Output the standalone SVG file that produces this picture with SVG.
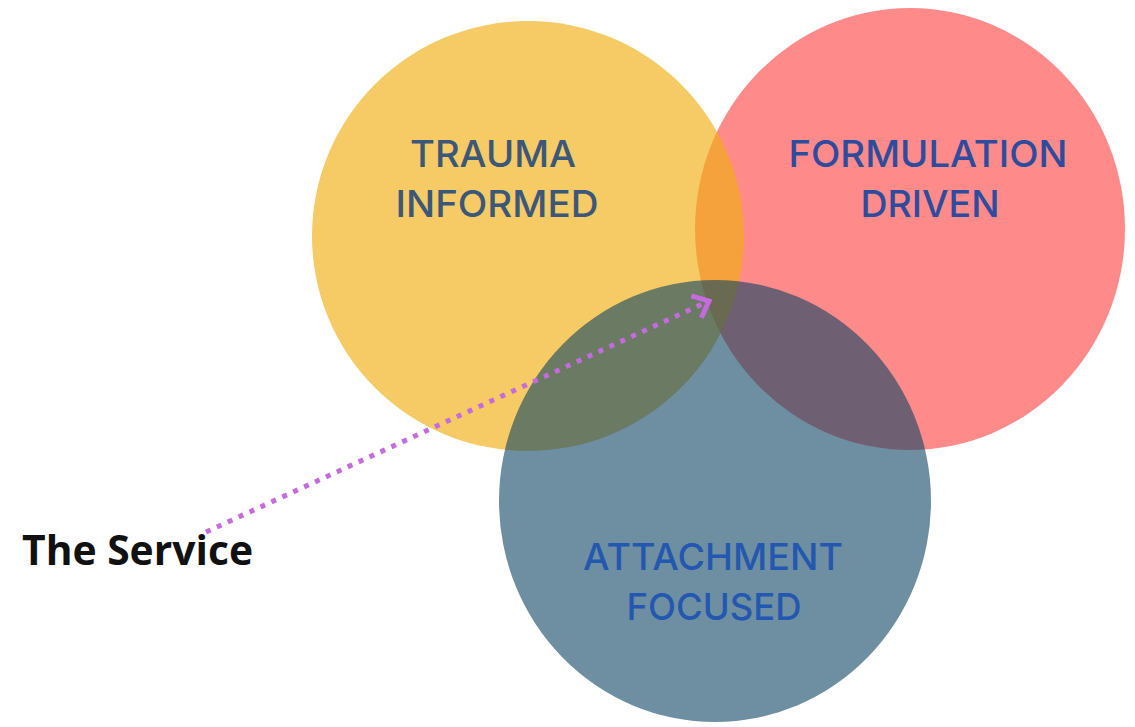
<svg xmlns="http://www.w3.org/2000/svg" width="1135" height="727" viewBox="0 0 1135 727">
<style>
.lbl{font-family:Inter,"Lato","Liberation Sans",sans-serif;font-weight:500;font-size:37px;text-anchor:middle}
.svc{font-family:"Open Sans","Liberation Sans",sans-serif;font-weight:bold;font-size:42px;fill:#111}
.conn{fill:none;stroke:#c56adf;stroke-width:5}
</style>
<defs>
<marker id="chev" viewBox="0 0 20 30" refX="17" refY="15" markerWidth="20" markerHeight="30" markerUnits="userSpaceOnUse" orient="auto">
<path d="M3,3 L17,15 L3,27" fill="none" stroke="#c56adf" stroke-width="5" stroke-linejoin="miter"/>
</marker>
</defs>
<rect width="1135" height="727" fill="#ffffff"/>
<g id="formulation-driven">
<ellipse cx="910" cy="229" rx="215" ry="221" fill="#fe8a8a"/>
<text class="lbl" fill="#2e4c9e" x="928" y="167" textLength="279" lengthAdjust="spacingAndGlyphs">FORMULATION</text>
<text class="lbl" fill="#2e4c9e" x="930" y="217" textLength="139" lengthAdjust="spacingAndGlyphs">DRIVEN</text>
</g>
<g id="trauma-informed">
<ellipse cx="528" cy="236" rx="216" ry="215" fill="#f1af14" fill-opacity="0.66"/>
<text class="lbl" fill="#3b5779" x="493" y="167" textLength="166" lengthAdjust="spacingAndGlyphs">TRAUMA</text>
<text class="lbl" fill="#3b5779" x="497" y="217" textLength="203" lengthAdjust="spacingAndGlyphs">INFORMED</text>
</g>
<g id="attachment-focused">
<ellipse cx="715" cy="501" rx="216" ry="221" fill="#0d4462" fill-opacity="0.6"/>
<text class="lbl" fill="#2458b0" x="713" y="570" textLength="260" lengthAdjust="spacingAndGlyphs">ATTACHMENT</text>
<text class="lbl" fill="#2458b0" x="714" y="620" textLength="175" lengthAdjust="spacingAndGlyphs">FOCUSED</text>
</g>
<g id="the-service">
<text class="svc" x="22" y="565" textLength="231" lengthAdjust="spacingAndGlyphs">The Service</text>
</g>
<g id="connectors">
<line class="conn" x1="206" y1="532" x2="709" y2="301" stroke-dasharray="5 7" marker-end="url(#chev)"/>
</g>
</svg>
